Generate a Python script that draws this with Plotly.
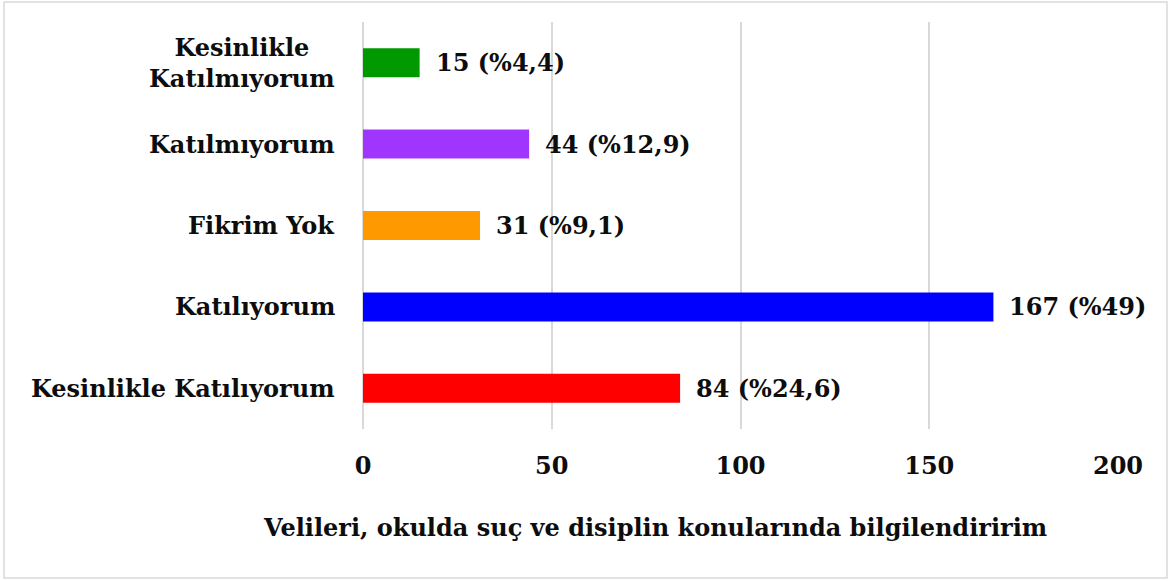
import plotly.graph_objects as go

categories = ["Kesinlikle Katılıyorum", "Katılıyorum", "Fikrim Yok", "Katılmıyorum", "Kesinlikle<br>Katılmıyorum"]
values = [84, 167, 31, 44, 15]
labels = ["84 (%24,6)", "167 (%49)", "31 (%9,1)", "44 (%12,9)", "15 (%4,4)"]
colors = ["#ff0000", "#0000ff", "#ff9900", "#a035ff", "#009900"]
x_ticks = [0, 50, 100, 150, 200]
axis_title = "Velileri, okulda suç ve disiplin konularında bilgilendiririm"

FONT = "DejaVu Serif"
FS = 24
TXT = "#0d0d0d"

fig = go.Figure()
fig.add_trace(go.Bar(
    x=values, y=list(range(len(categories))), orientation="h",
    marker=dict(color=colors, line=dict(width=0)),
    hoverinfo="skip",
))

annotations = []
for i, (c, v, l) in enumerate(zip(categories, values, labels)):
    annotations.append(dict(x=0, xref="paper", y=i, yref="y", text="<b>%s</b>" % c,
                            showarrow=False, xanchor="right", yanchor="middle", align="center",
                            xshift=-26, font=dict(family=FONT, size=FS, color=TXT)))
    annotations.append(dict(x=v, xref="x", y=i, yref="y", text="<b>%s</b>" % l,
                            showarrow=False, xanchor="left", yanchor="middle",
                            xshift=14, font=dict(family=FONT, size=FS, color=TXT)))
annotations.append(dict(x=0.387, xref="paper", y=-0.243, yref="paper", text="<b>%s</b>" % axis_title,
                        showarrow=False, xanchor="center", yanchor="middle",
                        font=dict(family=FONT, size=FS, color=TXT)))

fig.update_layout(
    width=1172, height=581,
    margin=dict(l=363, r=54, t=22, b=152),
    paper_bgcolor="white", plot_bgcolor="white",
    bargap=0.644,
    showlegend=False,
    annotations=annotations,
    xaxis=dict(range=[0, 200], tickvals=x_ticks, ticktext=["<b>%d</b>" % t for t in x_ticks],
               showgrid=True, gridcolor="#d9d9d9", gridwidth=1.5,
               zeroline=True, zerolinecolor="#d9d9d9", zerolinewidth=1.5,
               showline=False, ticks="outside", ticklen=15, tickcolor="rgba(0,0,0,0)",
               tickfont=dict(family=FONT, size=FS, color=TXT), fixedrange=True),
    yaxis=dict(range=[-0.5, len(categories) - 0.5], showticklabels=False, showgrid=False,
               zeroline=False, showline=False, fixedrange=True),
    shapes=[dict(type="rect", xref="paper", yref="paper", x0=-0.4755, x1=1.0649, y0=-0.366, y1=1.049,
                 line=dict(color="#d9d9d9", width=1.5), fillcolor="rgba(0,0,0,0)", layer="below")],
)

fig.write_html("out.html", config={"displayModeBar": False},
               post_script="document.body.style.margin='0px';document.body.style.padding='0px';")
